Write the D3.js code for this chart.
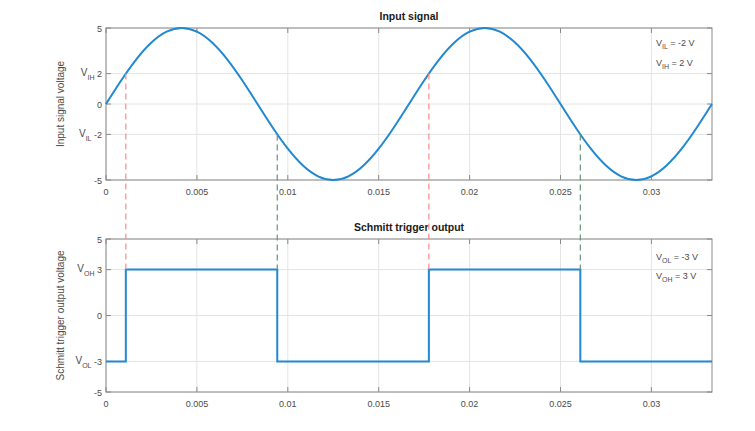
<!DOCTYPE html>
<html><head><meta charset="utf-8">
<script src="https://cdn.jsdelivr.net/npm/d3@7"></script>
<style>body{margin:0;background:#fff}svg{display:block;font-family:"Liberation Sans",Arial,sans-serif}</style>
</head><body><svg id="c" width="755" height="431"></svg>
<script>
// ---- data ----
const inputTimes = [0,0.0008333,0.0016667,0.0025,0.0033333,0.0041667,0.005,0.0058333,0.0066667,0.0075,0.0083333,0.0091667,0.01,0.0108333,0.0116667,0.0125,0.0133333,0.0141667,0.015,0.0158333,0.0166667,0.0175,0.0183333,0.0191667,0.02,0.0208333,0.0216667,0.0225,0.0233333,0.0241667,0.025,0.0258333,0.0266667,0.0275,0.0283333,0.0291667,0.03,0.0308333,0.0316667,0.0325,0.0333333];
const inputValues = [0,1.545,2.939,4.045,4.755,5,4.755,4.045,2.939,1.545,0,-1.545,-2.939,-4.045,-4.755,-5,-4.755,-4.045,-2.939,-1.545,0,1.545,2.939,4.045,4.755,5,4.755,4.045,2.939,1.545,0,-1.545,-2.939,-4.045,-4.755,-5,-4.755,-4.045,-2.939,-1.545,0];
const outputTimes = [0,0.00109,0.00942,0.01776,0.02609,0.0333333];
const outputValues = [-3,3,-3,3,-3,-3];
const risingTimes = [0.00109,0.01776];
const fallingTimes = [0.00942,0.02609];
const xTicks = [0,0.005,0.01,0.015,0.02,0.025,0.03];
const xTickLabels = ["0","0.005","0.01","0.015","0.02","0.025","0.03"];
const topYTicks = [-5,-2,0,2,5];
const topYTickNames = ["", "IL", "", "IH", ""];
const botYTicks = [-5,-3,0,3,5];
const botYTickNames = ["", "OL", "", "OH", ""];
const VIL = -2, VIH = 2, VOL = -3, VOH = 3;
const topNotes = [["IL"," = -2 V"],["IH"," = 2 V"]];
const botNotes = [["OL"," = -3 V"],["OH"," = 3 V"]];

// ---- layout ----
const svg = d3.select("#c");
const L = 106, R = 712;
const x = d3.scaleLinear().domain([0, 0.0333333]).range([L, R]);
const yTop = d3.scaleLinear().domain([-5,5]).range([180,28]);
const yBot = d3.scaleLinear().domain([-5,5]).range([392,239]);
const boxColor = "#8a8a8a", textColor = "#4a4a4a", gridColor = "#e4e4e4";
const lineColor = "#2188d2";

function drawAxes(y, yTicks, yNames, title, ylabel, notes, noteOff) {
  const [yb, yt] = y.range();
  const g = svg.append("g");
  g.selectAll(".gx").data(xTicks).join("line")
    .attr("x1", d => x(d)).attr("x2", d => x(d)).attr("y1", yt).attr("y2", yb)
    .attr("stroke", gridColor).attr("stroke-width", 1);
  g.selectAll(".gy").data(yTicks).join("line")
    .attr("x1", L).attr("x2", R).attr("y1", d => y(d)).attr("y2", d => y(d))
    .attr("stroke", gridColor).attr("stroke-width", 1);
  g.append("rect").attr("x", L).attr("y", yt).attr("width", R - L).attr("height", yb - yt)
    .attr("fill", "none").attr("stroke", boxColor).attr("stroke-width", 1);
  const tl = 5;
  xTicks.forEach(d => {
    g.append("line").attr("x1", x(d)).attr("x2", x(d)).attr("y1", yb).attr("y2", yb - tl).attr("stroke", boxColor);
    g.append("line").attr("x1", x(d)).attr("x2", x(d)).attr("y1", yt).attr("y2", yt + tl).attr("stroke", boxColor);
  });
  yTicks.forEach(d => {
    g.append("line").attr("x1", L).attr("x2", L + tl).attr("y1", y(d)).attr("y2", y(d)).attr("stroke", boxColor);
    g.append("line").attr("x1", R).attr("x2", R - tl).attr("y1", y(d)).attr("y2", y(d)).attr("stroke", boxColor);
  });
  g.selectAll(".xl").data(xTicks).join("text")
    .attr("x", d => x(d)).attr("y", yb + 15).attr("text-anchor", "middle")
    .attr("font-size", 9).attr("fill", textColor).text((d, i) => xTickLabels[i]);
  yTicks.forEach((d, i) => {
    const t = g.append("text").attr("x", L - 4).attr("y", y(d) + 3.5)
      .attr("text-anchor", "end").attr("font-size", 9).attr("fill", textColor);
    if (yNames[i]) {
      t.append("tspan").attr("font-size", 10).attr("dy", -1).text("V");
      t.append("tspan").attr("font-size", 7).attr("dy", 4).text(yNames[i]);
      t.append("tspan").attr("dy", -3).text(" " + d);
    } else t.text(d);
  });
  g.append("text").attr("x", (L + R) / 2).attr("y", yt - 8).attr("text-anchor", "middle")
    .attr("font-size", 10.5).attr("font-weight", "bold").attr("fill", "#1a1a1a").text(title);
  g.append("text").attr("transform", `translate(64,${(yt + yb) / 2}) rotate(-90)`)
    .attr("text-anchor", "middle").attr("font-size", 10).attr("fill", textColor).text(ylabel);
  notes.forEach((n, i) => {
    const t = g.append("text").attr("x", 656).attr("y", yt + noteOff + i * 19.5)
      .attr("font-size", 9).attr("fill", textColor);
    t.append("tspan").text("V");
    t.append("tspan").attr("font-size", 7).attr("dy", 3).text(n[0]);
    t.append("tspan").attr("dy", -3).text(n[1]);
  });
}

drawAxes(yTop, topYTicks, topYTickNames, "Input signal", "Input signal voltage", topNotes, 18);
drawAxes(yBot, botYTicks, botYTickNames, "Schmitt trigger output", "Schmitt trigger output voltage", botNotes, 20.5);

const inData = inputTimes.map((t, i) => [t, inputValues[i]]);
svg.append("path").datum(inData)
  .attr("d", d3.line().x(d => x(d[0])).y(d => yTop(d[1])).curve(d3.curveNatural))
  .attr("fill", "none").attr("stroke", lineColor).attr("stroke-width", 2);

const outData = outputTimes.map((t, i) => [t, outputValues[i]]);
svg.append("path").datum(outData)
  .attr("d", d3.line().x(d => x(d[0])).y(d => yBot(d[1])).curve(d3.curveStepAfter))
  .attr("fill", "none").attr("stroke", lineColor).attr("stroke-width", 2);

risingTimes.forEach(t => {
  svg.append("line").attr("x1", x(t)).attr("x2", x(t)).attr("y1", yTop(VIH)).attr("y2", yBot(VOH))
    .attr("stroke", "#ff8a8a").attr("stroke-width", 1.2).attr("stroke-dasharray", "6,4");
});
fallingTimes.forEach(t => {
  svg.append("line").attr("x1", x(t)).attr("x2", x(t)).attr("y1", yTop(VIL)).attr("y2", yBot(VOH))
    .attr("stroke", "#6a927a").attr("stroke-width", 1.2).attr("stroke-dasharray", "6,4");
});
</script></body></html>
